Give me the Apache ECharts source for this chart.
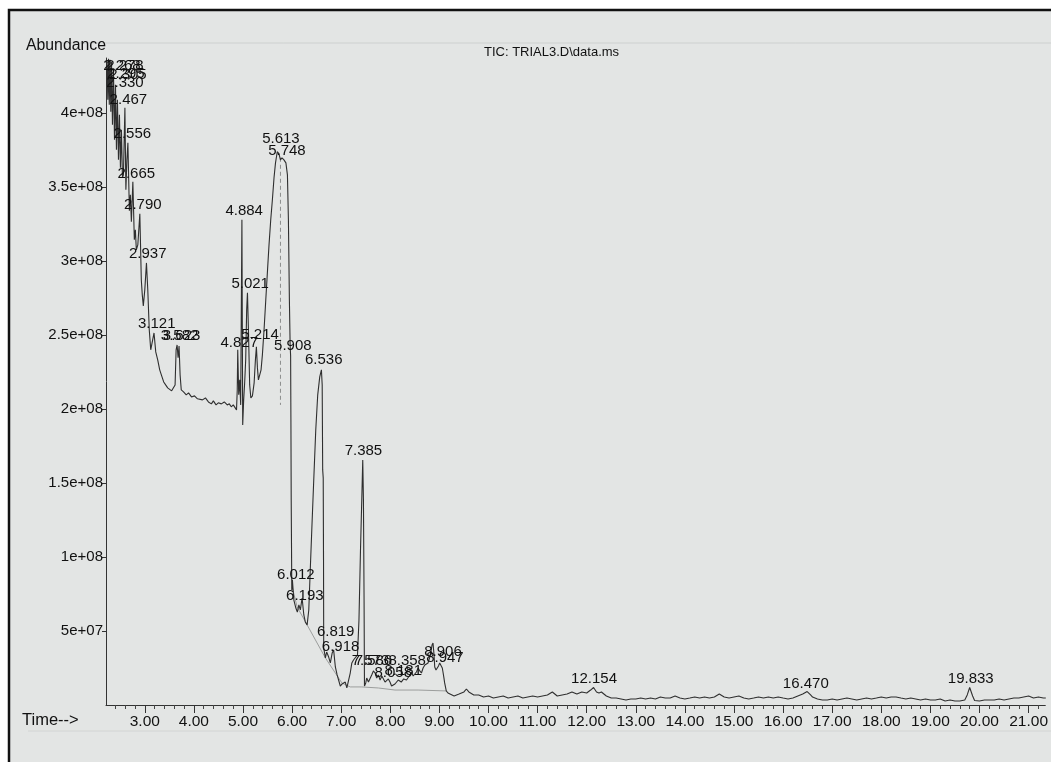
<!DOCTYPE html>
<html>
<head>
<meta charset="utf-8">
<script src="https://cdn.jsdelivr.net/npm/echarts@6/dist/echarts.min.js"></script>
<style>
html,body{margin:0;padding:0;background:#fff;}
#chart{width:1051px;height:762px;}
</style>
</head>
<body>
<div id="chart"></div>
<script>
// TIC trace: [retention time (min), abundance (millions)]
const traceEarly = [
[2.231,434.5],[2.247,408.8],[2.261,436.5],[2.277,405.4],[2.291,435.8],[2.308,400.7],[2.322,434.5],
[2.342,391.9],[2.362,429.1],[2.383,381.8],[2.403,418.9],[2.423,375.0],[2.443,408.8],[2.464,368.2],
[2.484,398.6],[2.504,362.8],[2.524,388.5],[2.545,356.1],[2.565,358.1],[2.595,403.4],[2.615,348.0],
[2.636,368.2],[2.656,379.7],[2.686,333.8],[2.706,344.6],[2.727,326.4],[2.757,353.4],[2.787,314.2],
[2.808,321.0],[2.828,307.4],[2.858,310.8],[2.899,331.8],[2.929,287.2],[2.949,277.0],[2.970,269.6],
[3.000,280.4],[3.034,298.6],[3.061,280.4],[3.091,253.4],[3.121,239.9],[3.152,241.2],[3.188,251.3],
[3.223,238.5],[3.263,233.1],[3.304,226.4],[3.344,222.3],[3.385,218.2],[3.425,216.2],[3.466,214.2],
[3.506,214.9],[3.547,212.2],[3.587,212.8],[3.617,216.2],[3.638,239.9],[3.658,243.2],[3.678,234.5],
[3.698,242.5],[3.719,223.0],[3.743,212.8],[3.789,211.5],[3.844,209.5],[3.891,210.8],[3.951,208.1],
[4.012,208.8],[4.073,206.8],[4.113,207.4],[4.174,206.1],[4.235,207.4],[4.296,204.7],[4.356,203.4],
[4.397,205.4],[4.451,202.7],[4.498,204.1],[4.559,203.4],[4.619,204.7],[4.680,202.7],[4.721,203.4],
[4.761,201.4],[4.802,202.7],[4.842,200.7],[4.868,199.3],[4.883,212.8],[4.893,239.9],[4.913,209.5],
[4.933,219.6],[4.953,202.7],[4.978,327.7],[4.994,189.2],[5.014,206.1],[5.034,217.6],[5.055,233.1],
[5.075,266.9],[5.091,278.4],[5.111,253.4],[5.136,216.2],[5.160,207.4],[5.192,208.8],[5.227,217.6],
[5.253,233.1],[5.273,241.9],[5.294,227.7],[5.314,219.6],[5.342,218.9],[5.368,226.4],[5.395,236.5],
[5.429,253.4],[5.464,273.6],[5.500,293.9],[5.530,310.8],[5.565,327.7],[5.597,340.6],[5.632,356.1],
[5.662,366.2],[5.698,373.7],[5.733,372.3],[5.763,368.2],[5.794,369.6],[5.834,368.2],[5.874,366.2],
[5.905,358.1],[5.925,327.7],[5.945,273.6],[5.960,243.2],[5.970,235.8],[5.976,192.6],[5.982,138.5],
[5.994,77.7],[6.006,84.5],[6.036,70.9],[6.077,65.5],[6.107,62.8],[6.138,67.6],[6.168,64.2],
[6.204,72.3],[6.239,60.8],[6.269,56.1],[6.306,54.1],[6.340,64.2],[6.370,91.2],[6.401,118.2],
[6.441,152.0],[6.482,185.8],[6.522,209.5],[6.563,221.6],[6.597,226.4],[6.613,216.2],[6.623,158.8],
[6.634,153.4],[6.640,98.0],[6.644,38.5],[6.678,31.8],[6.704,35.8],[6.745,32.4],[6.779,28.4],
[6.816,35.1],[6.846,37.2],[6.881,25.7],[6.917,20.3],[6.947,16.9],[6.982,12.8],[7.018,14.2],
[7.049,14.9],[7.083,15.5],[7.115,11.5],[7.150,12.8],[7.184,21.6],[7.217,28.4],[7.251,30.4],
[7.291,29.1],[7.332,33.8],[7.362,57.4],[7.393,104.7],[7.419,138.5],[7.439,165.5],[7.453,138.5],
[7.466,70.9],[7.474,12.8],[7.500,14.9],[7.520,18.2],[7.555,15.5],[7.585,14.9],[7.621,20.3],
[7.656,23.0],[7.690,21.6],[7.723,18.2],[7.757,20.3],[7.792,16.9],[7.828,19.6],[7.858,18.9],
[7.893,15.5],[7.925,14.9],[7.960,17.6],[7.994,15.5],[8.026,12.8],[8.061,12.2],[8.095,14.2],
[8.128,14.9],[8.162,16.9],[8.196,18.2],[8.223,15.5],[8.243,14.9],[8.273,17.6],[8.298,18.9],
[8.330,16.9],[8.364,18.2],[8.399,20.3],[8.431,22.3],[8.466,19.6],[8.500,18.9],[8.532,22.3],
[8.567,25.0],[8.601,23.0],[8.634,21.6],[8.668,25.0],[8.703,27.0],[8.735,26.4],[8.769,28.4],
[8.800,31.8],[8.824,35.1],[8.850,40.5],[8.870,41.9],[8.891,33.8],[8.905,25.7],[8.931,23.6],
[8.957,23.6],[8.982,26.4],[9.006,28.4],[9.038,29.1],[9.059,25.0],[9.073,22.3],[9.093,18.2],
[9.107,14.9],[9.140,9.5],[9.174,8.1]
];
const traceLate = [
[9.2,6.8],[9.3,6.1],[9.4,7.4],[9.5,8.8],[9.55,10.8],[9.6,8.8],[9.7,6.8],[9.8,6.8],[9.9,5.4],
[10.0,6.1],[10.1,4.7],[10.2,5.4],[10.3,6.1],[10.4,4.7],[10.5,5.4],[10.6,6.1],[10.7,4.7],[10.8,5.4],
[10.9,6.1],[11.0,5.4],[11.1,6.1],[11.2,6.8],[11.3,8.8],[11.4,6.1],[11.5,6.8],[11.6,7.4],[11.7,8.8],
[11.8,7.4],[11.9,8.8],[12.0,8.1],[12.08,10.1],[12.14,11.8],[12.2,8.8],[12.25,8.1],[12.3,8.8],
[12.4,6.1],[12.5,4.7],[12.6,4.7],[12.7,4.1],[12.8,3.4],[12.9,4.1],[13.0,4.1],[13.1,4.7],[13.2,4.1],
[13.3,4.7],[13.4,4.1],[13.5,5.4],[13.6,4.7],[13.7,4.7],[13.8,6.1],[13.9,4.7],[14.0,4.1],[14.1,4.7],
[14.2,5.4],[14.3,4.7],[14.4,5.4],[14.5,4.7],[14.6,5.4],[14.7,7.4],[14.8,5.4],[14.9,4.7],[15.0,5.4],
[15.1,6.1],[15.2,4.7],[15.3,4.1],[15.4,4.7],[15.5,5.4],[15.6,4.7],[15.7,5.4],[15.8,4.7],[15.9,5.4],
[16.0,4.7],[16.1,4.1],[16.2,4.7],[16.3,6.1],[16.4,7.4],[16.49,9.1],[16.56,6.8],[16.6,5.4],[16.7,4.1],
[16.8,3.4],[16.9,3.4],[17.0,4.1],[17.1,3.4],[17.2,4.1],[17.3,4.7],[17.4,4.1],[17.5,3.4],[17.6,4.1],
[17.7,4.7],[17.8,4.1],[17.9,4.7],[18.0,5.4],[18.1,4.7],[18.2,5.4],[18.3,5.4],[18.4,4.7],[18.5,4.1],
[18.6,4.7],[18.7,4.1],[18.8,3.4],[18.9,4.1],[19.0,3.4],[19.1,3.4],[19.2,4.1],[19.3,2.7],[19.4,3.4],
[19.5,2.7],[19.6,2.7],[19.7,3.4],[19.75,6.8],[19.8,11.8],[19.86,6.1],[19.9,3.0],[20.0,2.7],
[20.1,3.4],[20.2,3.4],[20.3,3.4],[20.4,4.1],[20.5,3.4],[20.6,4.1],[20.7,4.7],[20.8,4.7],[20.9,5.4],
[21.0,6.1],[21.1,4.7],[21.2,5.4],[21.3,4.7],[21.35,4.7]
];
// integration baseline (light) and drop line (dashed), abundance in millions
const baselineTrace = [
[6.002,79.7],[6.103,66.2],[6.273,56.1],[6.476,43.9],[6.678,31.8],[6.881,21.6],[7.014,14.9],
[7.184,12.2],[7.419,12.2],[7.757,11.5],[8.095,10.1],[8.567,10.1],[9.134,9.5]
];
const dropLine = [[5.763,369.6],[5.763,202.7]];
// peak labels: [text, time, abundance (millions)]
const peakLabels = [
['2.268',2.534,425.0],['2.278',2.595,425.0],['2.295',2.615,419.6],['2.305',2.656,418.9],
['2.330',2.595,413.5],['2.467',2.666,402.0],['2.556',2.747,379.1],['2.665',2.828,352.0],
['2.790',2.960,331.1],['2.937',3.061,298.0],['3.121',3.243,250.7],['3.582',3.709,242.6],
['3.623',3.749,242.6],['4.827',4.923,237.8],['4.884',5.024,327.0],['5.021',5.146,277.7],
['5.214',5.348,243.2],['5.613',5.773,375.7],['5.748',5.895,367.6],['5.908',6.016,235.8],
['6.012',6.077,81.1],['6.193',6.259,66.9],['6.536',6.644,226.4],['6.819',6.887,42.6],
['6.918',6.988,32.4],['7.385',7.453,164.9],['7.573',7.595,23.0],['7.586',7.656,23.0],
['8.358',8.344,23.0],['8.058',8.061,14.9],['8.181',8.263,16.2],['8.906',9.073,29.1],
['8.947',9.113,25.0],['12.154',12.150,10.8],['16.470',16.462,7.4],['19.833',19.822,10.8]
];
const xTickValues = [3,4,5,6,7,8,9,10,11,12,13,14,15,16,17,18,19,20,21];
const xTickLabels = ['3.00','4.00','5.00','6.00','7.00','8.00','9.00','10.00','11.00','12.00','13.00','14.00','15.00','16.00','17.00','18.00','19.00','20.00','21.00'];
const yTickValues = [5e7,1e8,1.5e8,2e8,2.5e8,3e8,3.5e8,4e8];
const yTickLabels = ['5e+07','1e+08','1.5e+08','2e+08','2.5e+08','3e+08','3.5e+08','4e+08'];

const M = 1e6;
const toPts = arr => arr.map(p => [p[0], p[1] * M]);
const xMinor = [];
for (let i = 12; i <= 106; i++) { if (i % 5 !== 0) xMinor.push(+(i * 0.2).toFixed(1)); }
const xLabelMap = {};
xTickValues.forEach((v, i) => { xLabelMap[v] = xTickLabels[i]; });
const yLabelMap = {};
yTickValues.forEach((v, i) => { yLabelMap[v] = yTickLabels[i]; });

const FONT = 'Liberation Sans, Arial, sans-serif';
const TXT = '#111111';
const XMIN = 2.21, XMAX = 21.34;

const chart = echarts.init(document.getElementById('chart'));
chart.setOption({
  animation: false,
  backgroundColor: '#ffffff',
  graphic: [
    { type: 'rect', z: -20, shape: { x: 9, y: 10, width: 1100, height: 800 },
      style: { fill: '#e3e5e4', stroke: '#111', lineWidth: 2.5 } },
    { type: 'line', z: -19, shape: { x1: 28, y1: 43, x2: 1051, y2: 43 },
      style: { stroke: '#cdd0cf', lineWidth: 1 } },
    { type: 'line', z: -19, shape: { x1: 28, y1: 731, x2: 1051, y2: 731 },
      style: { stroke: '#d2d4d3', lineWidth: 1 } },
    { type: 'text', left: 26, top: 38,
      style: { text: 'Abundance', font: '15.8px ' + FONT, fill: TXT } },
    { type: 'text', left: 484, top: 46,
      style: { text: 'TIC: TRIAL3.D\\data.ms', font: '13px ' + FONT, fill: TXT } },
    { type: 'text', left: 22, top: 712,
      style: { text: 'Time-->', font: '16.5px ' + FONT, fill: TXT } }
  ],
  grid: { left: 106, right: 0, top: 58, bottom: 57, containLabel: false },
  xAxis: [
    { type: 'value', min: XMIN, max: XMAX, position: 'bottom',
      axisLine: { show: true, lineStyle: { color: '#333', width: 1 } },
      axisTick: { show: true, customValues: xTickValues, length: 8, lineStyle: { color: '#333' } },
      axisLabel: { show: true, customValues: xTickValues, margin: 9,
        formatter: v => xLabelMap[Math.round(v)] || '',
        fontFamily: FONT, fontSize: 15.5, color: TXT },
      splitLine: { show: false } },
    { type: 'value', min: XMIN, max: XMAX, position: 'bottom', gridIndex: 0,
      axisLine: { show: false },
      axisTick: { show: true, customValues: xMinor, length: 4, lineStyle: { color: '#444' } },
      axisLabel: { show: false }, splitLine: { show: false } }
  ],
  yAxis: {
    type: 'value', min: 0, max: 437 * M,
    axisLine: { show: true, lineStyle: { color: '#333', width: 1 } },
    axisTick: { show: true, customValues: yTickValues, length: 4, lineStyle: { color: '#333' } },
    axisLabel: { show: true, customValues: yTickValues, margin: 3,
      formatter: v => yLabelMap[v] || '',
      fontFamily: FONT, fontSize: 15, color: TXT },
    splitLine: { show: false }
  },
  series: [
    { type: 'line', name: 'baseline', data: toPts(baselineTrace), showSymbol: false, silent: true,
      lineStyle: { color: '#9c9e9d', width: 1 }, z: 1 },
    { type: 'line', name: 'drop', data: toPts(dropLine), showSymbol: false, silent: true,
      lineStyle: { color: '#8c8e8d', width: 1, type: [4, 3] }, z: 1 },
    { type: 'line', name: 'TIC', data: toPts(traceEarly.concat(traceLate)), showSymbol: false,
      silent: true, lineStyle: { color: '#2f2f2f', width: 1.1 }, z: 3 },
    { type: 'scatter', name: 'labels', silent: true, symbol: 'circle', symbolSize: 1, z: 4,
      data: peakLabels.map(p => ({ name: p[0], value: [p[1], p[2] * M] })),
      itemStyle: { color: 'rgba(0,0,0,0)' },
      labelLayout: { hideOverlap: false },
      label: { show: true, position: 'top', distance: 2, formatter: '{b}',
        fontFamily: FONT, fontSize: 15, color: TXT, opacity: 1, textBorderWidth: 0 } }
  ]
});
</script>
</body>
</html>
